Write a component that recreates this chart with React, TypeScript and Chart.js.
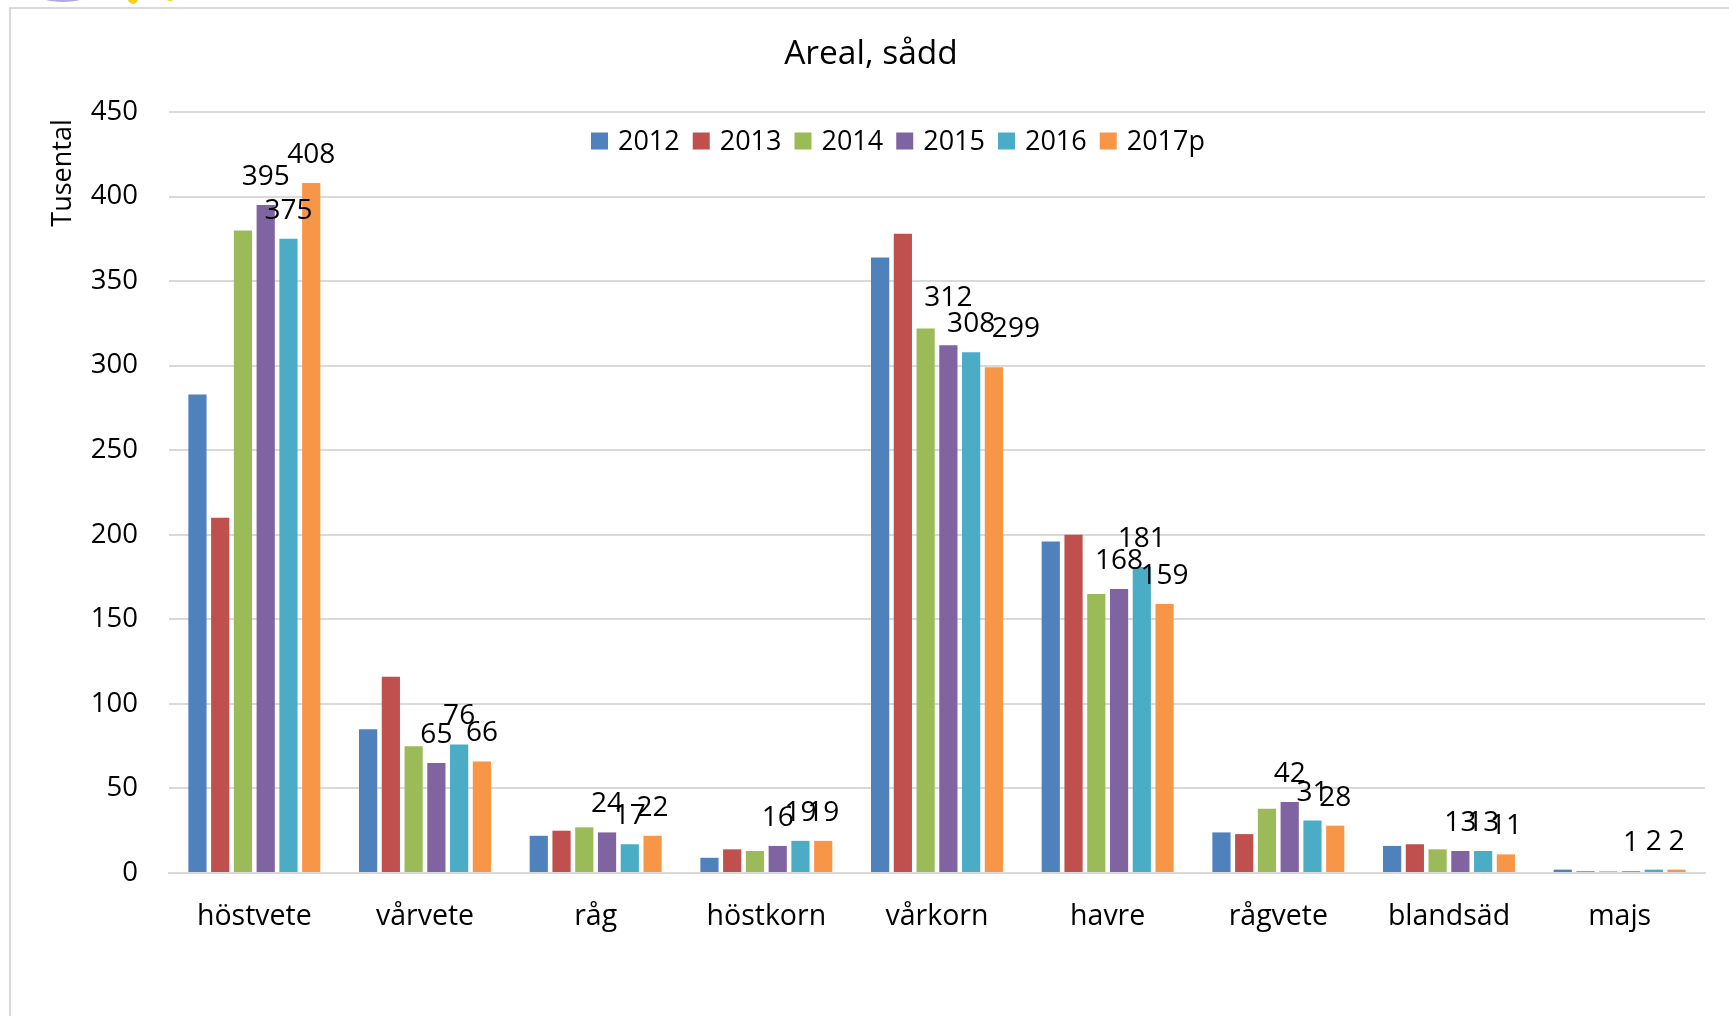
import React, { useEffect, useRef } from "react";
import { Chart, registerables } from "chart.js";

Chart.register(...registerables);

const categories = ["höstvete", "vårvete", "råg", "höstkorn", "vårkorn", "havre", "rågvete", "blandsäd", "majs"];
const seriesNames = ["2012", "2013", "2014", "2015", "2016", "2017p"];
const seriesColors = ["#4F81BD", "#C0504D", "#9BBB59", "#8064A2", "#4BACC6", "#F79646"];

const values2012 = [283, 85, 22, 9, 364, 196, 24, 16, 2];
const values2013 = [210, 116, 25, 14, 378, 200, 23, 17, 1];
const values2014 = [380, 75, 27, 13, 322, 165, 38, 14, 1];
const values2015 = [395, 65, 24, 16, 312, 168, 42, 13, 1];
const values2016 = [375, 76, 17, 19, 308, 181, 31, 13, 2];
const values2017 = [408, 66, 22, 19, 299, 159, 28, 11, 2];

const allSeries = [values2012, values2013, values2014, values2015, values2016, values2017];
const labelledSeries = [3, 4, 5];
// label nudges (Excel moved a few overlapping labels): [series, category, dx, dy]
const labelNudges: [number, number, number, number][] = [
  [3, 4, 0, -19],
  [5, 4, 22, -10],
];

const yTicks = [0, 50, 100, 150, 200, 250, 300, 350, 400, 450];

const titleText = "Areal, sådd";
const yTitleText = "Tusental";
const FONT = "'Open Sans', sans-serif";

const decorPlugin = {
  id: "decor",
  beforeDraw(chart: any) {
    const ctx = chart.ctx;
    ctx.save();
    ctx.fillStyle = "#b2a8e0";
    ctx.beginPath();
    ctx.ellipse(63, -7, 27, 9, 0, 0, Math.PI * 2);
    ctx.fill();
    ctx.fillStyle = "#f3d21c";
    ctx.beginPath();
    ctx.arc(133, -1, 5, 0, Math.PI * 2);
    ctx.fill();
    ctx.beginPath();
    ctx.arc(170, -3, 4, 0, Math.PI * 2);
    ctx.fill();
    ctx.strokeStyle = "#d9d9d9";
    ctx.lineWidth = 2;
    ctx.strokeRect(10, 8, 2000, 2000);
    ctx.restore();
  },
  afterDraw(chart: any) {
    const ctx = chart.ctx;
    const area = chart.chartArea;
    ctx.save();
    ctx.fillStyle = "#000";
    ctx.font = `33.5px ${FONT}`;
    ctx.textAlign = "center";
    ctx.textBaseline = "middle";
    ctx.fillText(titleText, 871, 54);
    ctx.font = `27px ${FONT}`;
    ctx.save();
    ctx.translate(63, area.top + 61);
    ctx.rotate(-Math.PI / 2);
    ctx.textAlign = "center";
    ctx.textBaseline = "middle";
    ctx.fillText(yTitleText, 0, 0);
    ctx.restore();
    ctx.font = `27px ${FONT}`;
    const box = 17;
    const gapText = 10;
    const gapItem = 13;
    const widths = seriesNames.map((n) => ctx.measureText(n).width);
    const total = widths.reduce((a, w) => a + box + gapText + w, 0) + gapItem * (seriesNames.length - 1);
    let x = 898 - total / 2;
    const cy = area.top + 29;
    ctx.textAlign = "left";
    ctx.textBaseline = "middle";
    seriesNames.forEach((n, i) => {
      ctx.fillStyle = seriesColors[i];
      ctx.fillRect(x, cy - box / 2, box, box);
      x += box + gapText;
      ctx.fillStyle = "#000";
      ctx.fillText(n, x, cy + 1);
      x += widths[i] + gapItem;
    });
    ctx.font = `28px ${FONT}`;
    ctx.textAlign = "center";
    ctx.textBaseline = "alphabetic";
    ctx.fillStyle = "#000";
    labelledSeries.forEach((di) => {
      const meta = chart.getDatasetMeta(di);
      meta.data.forEach((el: any, j: number) => {
        const n = labelNudges.find((q) => q[0] === di && q[1] === j);
        const dx = n ? n[2] : 0;
        const dy = n ? n[3] : 0;
        ctx.fillText(String(allSeries[di][j]), el.x + dx, el.y - 20 + dy);
      });
    });
    ctx.restore();
  },
};

export default function App() {
  const ref = useRef<HTMLCanvasElement | null>(null);
  useEffect(() => {
    if (!ref.current) return;
    const chart = new Chart(ref.current, {
      type: "bar",
      data: {
        labels: categories,
        datasets: allSeries.map((vals, i) => ({
          label: seriesNames[i],
          data: vals,
          backgroundColor: seriesColors[i],
          borderWidth: 0,
          categoryPercentage: 0.8,
          barPercentage: 0.8,
        })),
      },
      options: {
        responsive: false,
        animation: false,
        devicePixelRatio: 1,
        layout: { padding: { top: 112, right: 24, bottom: 0, left: 0 } },
        plugins: {
          legend: { display: false },
          title: { display: false },
          tooltip: { enabled: false },
        },
        scales: {
          x: {
            grid: { display: false, drawTicks: false },
            border: { display: true, color: "#d9d9d9", width: 2 },
            ticks: { color: "#000", font: { family: FONT, size: 28.5 }, padding: 27, maxRotation: 0, autoSkip: false },
            afterFit: (s: any) => {
              s.height = 143;
            },
          },
          y: {
            min: 0,
            max: 450,
            afterBuildTicks: (s: any) => {
              s.ticks = yTicks.map((v) => ({ value: v }));
            },
            grid: { color: "#d9d9d9", lineWidth: 2, drawTicks: false },
            border: { display: false },
            ticks: { color: "#000", font: { family: FONT, size: 27.5 }, padding: 31 },
            afterFit: (s: any) => {
              s.width = 169;
            },
          },
        },
      },
      plugins: [decorPlugin],
    });
    return () => chart.destroy();
  }, []);
  return (
    <div style={{ position: "fixed", left: 0, top: 0, width: 1729, height: 1016, background: "#fff" }}>
      <canvas ref={ref} width={1729} height={1016} style={{ width: 1729, height: 1016, display: "block" }} />
    </div>
  );
}
